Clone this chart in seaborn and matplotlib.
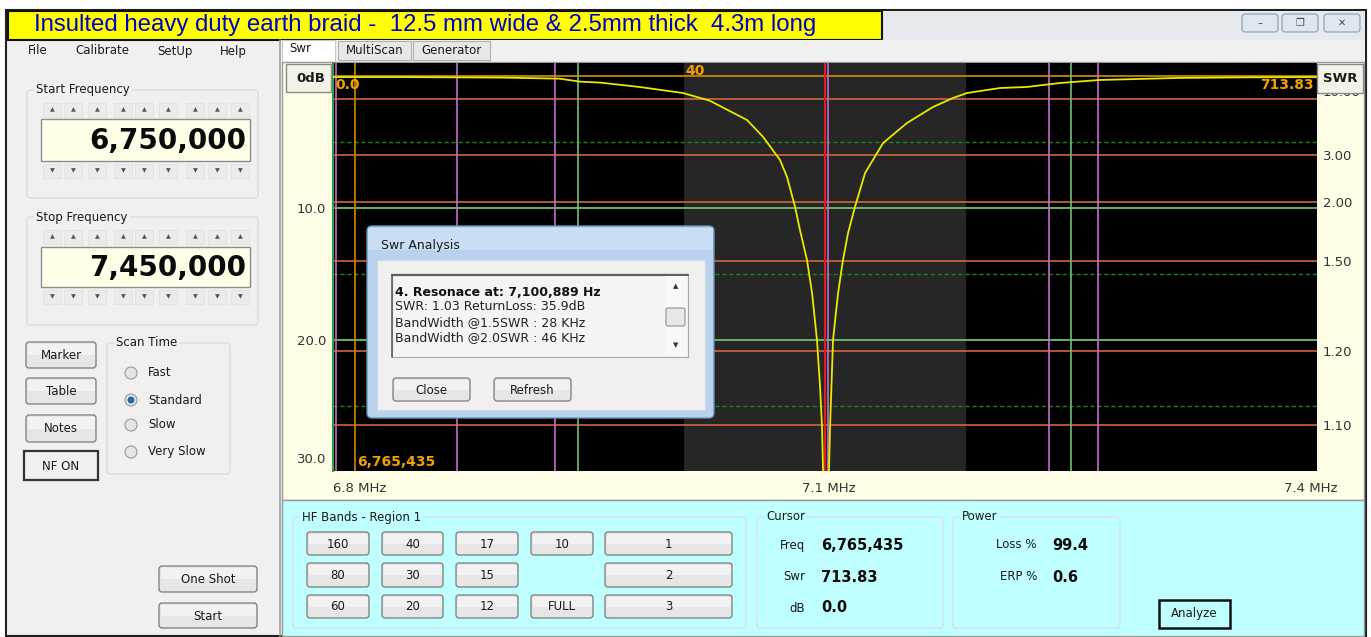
import numpy as np
import matplotlib
matplotlib.use('Agg')
import matplotlib.pyplot as plt
import seaborn as sns
from matplotlib.patches import Rectangle, FancyBboxPatch, Circle
from matplotlib.transforms import ScaledTranslation

sns.set_theme(style='white')
plt.rcParams['font.family'] = ['DejaVu Sans']

# sweep: frequency (MHz) and return loss (dB)
freq_mhz = [6.75, 6.80, 6.833, 6.87, 6.911, 6.926, 6.940, 6.968, 6.999, 7.018,
            7.0445, 7.056, 7.068, 7.073, 7.0787, 7.0822, 7.0872, 7.0908, 7.0943, 7.0965,
            7.0979, 7.0986, 7.1009, 7.1028, 7.1036, 7.1057, 7.1093, 7.1128, 7.1164, 7.1213,
            7.1285, 7.1413, 7.1583, 7.1768, 7.191, 7.201, 7.2245, 7.2437, 7.2672, 7.2956,
            7.35, 7.40, 7.45]
rl_db = [0.08, 0.08, 0.10, 0.12, 0.2, 0.43, 0.5, 0.83, 1.29, 1.87,
         3.33, 4.62, 6.36, 7.65, 9.92, 11.67, 13.94, 16.44, 20.0, 23.56,
         26.6, 29.85, 35.9, 30.0, 26.6, 20.0, 16.44, 13.94, 11.9, 9.92,
         7.35, 5.08, 3.56, 2.35, 1.67, 1.29, 0.91, 0.83, 0.53, 0.30,
         0.15, 0.1, 0.08]

band_40m = (7.0, 7.2)
purple_mhz = [6.752, 6.838, 6.908, 7.102, 7.259, 7.294]
green_mhz = [6.924, 7.275]
marker_mhz = 7.1
cursor_mhz = 6.765435

swr_ticks = [10.0, 3.0, 2.0, 1.5, 1.2, 1.1]
swr_labels = ['10.00', '3.00', '2.00', '1.50', '1.20', '1.10']
db_solid = [10, 20]
db_dashed = [5, 15, 25]
x_ticks = [6.75, 7.1, 7.45]
x_labels = ['6.8 MHz', '7.1 MHz', '7.4 MHz']

title = 'Insulted heavy duty earth braid -  12.5 mm wide & 2.5mm thick  4.3m long'
band_rows = [['160', '40', '17', '10', '1'],
             ['80', '30', '15', '', '2'],
             ['60', '20', '12', 'FULL', '3']]

W, H = 1371, 637
fig = plt.figure(figsize=(W / 100, H / 100), dpi=100)
fig.patch.set_facecolor('white')

# background layer in pixel coordinates
bg = fig.add_axes([0, 0, 1, 1], zorder=0)
bg.set_xlim(0, W)
bg.set_ylim(H, 0)
bg.axis('off')


def rect(ax, x0, y0, x1, y1, fc, ec='none', lw=1, z=1, r=0):
    if r:
        p = FancyBboxPatch((x0, y0), x1 - x0, y1 - y0, boxstyle=f'round,pad=0,rounding_size={r}',
                           fc=fc, ec=ec, lw=lw, zorder=z)
    else:
        p = Rectangle((x0, y0), x1 - x0, y1 - y0, fc=fc, ec=ec, lw=lw, zorder=z)
    ax.add_patch(p)
    return p


def button(ax, x0, y0, x1, y1, label, fs=8.5, ec='#7a7a7a', lw=0.9, z=2, fc='#e6e6e6'):
    rect(ax, x0, y0, x1, y1, fc, ec, lw, z, r=3)
    rect(ax, x0 + 1.5, y0 + 1.5, x1 - 1.5, (y0 + y1) / 2, '#f2f2f2', z=z + 0.01)
    ax.text((x0 + x1) / 2, (y0 + y1) / 2 + 0.5, label, ha='center', va='center',
            fontsize=fs, color='#1a1a1a', zorder=z + 0.1)


def groupbox(ax, x0, y0, x1, y1, label, face, z=1.5):
    rect(ax, x0, y0, x1, y1, 'none', '#d6e0e6', 1.0, z, r=3)
    ax.text(x0 + 9, y0, label, ha='left', va='center', fontsize=8.5, color='#1a1a1a',
            zorder=z + 0.1, bbox=dict(fc=face, ec='none', pad=1.5))


# window chrome
rect(bg, 6, 10, 1366, 636, '#f0f0f0', '#202020', 1.5, z=0.5)
rect(bg, 882, 11, 1365, 40, '#e6e9ee', z=0.6)
for x0, sym in zip([1242, 1282, 1324], ['\u2013', '\u2750', '\u2715']):
    rect(bg, x0, 14, x0 + 36, 32, '#dfe6ef', '#8a9bb0', 0.8, z=0.7, r=3)
    bg.text(x0 + 18, 23, sym, ha='center', va='center', fontsize=7, color='#445', zorder=0.8)
rect(bg, 8, 11, 882, 40, '#ffff00', '#111111', 1.5, z=0.9)
bg.text(34, 25.5, title, ha='left', va='center', fontsize=17.3, color='#0000c8',
        family=['Liberation Sans Narrow', 'Liberation Sans', 'DejaVu Sans'], zorder=1)

# menu
for x, m in zip([28, 75, 157, 220], ['File', 'Calibrate', 'SetUp', 'Help']):
    bg.text(x, 51, m, ha='left', va='center', fontsize=8.5, color='#1a1a1a')

# frequency entry groups
arrow_x = [52, 73, 97, 123, 144, 168, 195, 217, 240]
for (gy0, gy1, label, up_y, vb0, vb1, dn_y, value) in [
        (90, 198, 'Start Frequency', 110, 119, 161, 171, '6,750,000'),
        (217, 325, 'Stop Frequency', 237, 247, 287, 297, '7,450,000')]:
    groupbox(bg, 27, gy0, 258, gy1, label, '#f0f0f0')
    for ax_ in arrow_x:
        rect(bg, ax_ - 9, up_y - 7, ax_ + 9, up_y + 7, '#ebebeb', '#e0e0e0', 0.6, z=1.6)
        bg.text(ax_, up_y, '\u25b2', ha='center', va='center', fontsize=4.5, color='#555', zorder=1.7)
        rect(bg, ax_ - 9, dn_y - 7, ax_ + 9, dn_y + 7, '#ebebeb', '#e0e0e0', 0.6, z=1.6)
        bg.text(ax_, dn_y, '\u25bc', ha='center', va='center', fontsize=4.5, color='#555', zorder=1.7)
    rect(bg, 41, vb0, 250, vb1, '#ffffe8', '#8c8c8c', 1.0, z=1.8)
    bg.text(246, (vb0 + vb1) / 2 + 1, value, ha='right', va='center', fontsize=20,
            fontweight='bold', color='#0a0a0a', zorder=1.9)

# left buttons
button(bg, 26, 342, 96, 368, 'Marker')
button(bg, 26, 378, 96, 404, 'Table')
button(bg, 26, 415, 96, 442, 'Notes')
rect(bg, 24, 451, 98, 480, '#f0f0f0', '#333333', 1.6, z=2)
bg.text(61, 466, 'NF ON', ha='center', va='center', fontsize=8.5, color='#1a1a1a', zorder=2.1)
groupbox(bg, 107, 343, 230, 474, 'Scan Time', '#f0f0f0')
for ry, lab, sel in zip([373, 400, 425, 452], ['Fast', 'Standard', 'Slow', 'Very Slow'],
                        [False, True, False, False]):
    bg.add_patch(Circle((131, ry), 6, fc='#e4e4e4', ec='#9a9a9a', lw=0.8, zorder=2))
    if sel:
        bg.add_patch(Circle((131, ry), 3, fc='#1f6fb5', ec='#0f4f90', lw=0.5, zorder=2.1))
    bg.text(148, ry, lab, ha='left', va='center', fontsize=8.5, color='#1a1a1a', zorder=2.1)
button(bg, 159, 566, 257, 592, 'One Shot')
button(bg, 159, 603, 257, 628, 'Start')
bg.plot([280, 280], [40, 636], color='#a0a0a0', lw=1.2, zorder=1)

# tabs
rect(bg, 281, 40, 1365, 62, '#f0f0f0', z=0.9)
rect(bg, 282, 40, 335, 62, '#ffffff', '#c8c8c8', 0.8, z=1)
bg.text(289, 49, 'Swr', ha='left', va='center', fontsize=8.5, color='#1a1a1a', zorder=1.1)
for x0, x1, lab in [(338, 411, 'MultiScan'), (413, 490, 'Generator')]:
    rect(bg, x0, 41, x1, 60, '#e8e8e8', '#b0b0b0', 0.8, z=1)
    bg.text((x0 + x1) / 2, 50.5, lab, ha='center', va='center', fontsize=8.5, color='#1a1a1a', zorder=1.1)

# chart panel and lower control panel
rect(bg, 282, 62, 1364, 500, '#fffde6', '#9a9a9a', 1.0, z=1)
rect(bg, 282, 500, 1364, 636, '#c0ffff', '#9a9a9a', 1.0, z=1)

groupbox(bg, 293, 517, 746, 628, 'HF Bands - Region 1', '#c0ffff')
col_x = [(307, 369), (382, 443), (456, 518), (531, 593), (605, 732)]
row_y = [(532, 555), (563, 587), (595, 618)]
for ri, row in enumerate(band_rows):
    for ci, lab in enumerate(row):
        if lab:
            button(bg, col_x[ci][0], row_y[ri][0], col_x[ci][1], row_y[ri][1], lab, fs=8.5)

groupbox(bg, 757, 517, 943, 628, 'Cursor', '#c0ffff')
for yy, lab, val in zip([545, 577, 608], ['Freq', 'Swr', 'dB'], ['6,765,435', '713.83', '0.0']):
    bg.text(805, yy, lab, ha='right', va='center', fontsize=8.5, color='#1a1a1a', zorder=2)
    bg.text(821, yy, val, ha='left', va='center', fontsize=10.5, fontweight='bold', color='#0a0a0a', zorder=2)
groupbox(bg, 953, 517, 1120, 628, 'Power', '#c0ffff')
for yy, lab, val in zip([545, 577], ['Loss %', 'ERP %'], ['99.4', '0.6']):
    bg.text(1037, yy, lab, ha='right', va='center', fontsize=8.5, color='#1a1a1a', zorder=2)
    bg.text(1052, yy, val, ha='left', va='center', fontsize=10.5, fontweight='bold', color='#0a0a0a', zorder=2)
rect(bg, 1159, 600, 1230, 628, '#c0ffff', '#111111', 1.8, z=2)
bg.text(1194.5, 614, 'Analyze', ha='center', va='center', fontsize=8.5, color='#1a1a1a', zorder=2.1)

# ---- the SWR chart itself ----
ax = fig.add_axes([333 / W, 1 - 471 / H, 984 / W, 408 / H], zorder=2)
ax.set_facecolor('black')
ax.axvspan(*band_40m, color='#262626', lw=0, zorder=0)

for d in db_dashed:
    ax.axhline(d, color='#138a13', lw=1.0, ls=(0, (3, 2)), zorder=1)
for d in db_solid:
    ax.axhline(d, color='#6fbf6f', lw=1.3, zorder=1)
swr_pos = [-20 * np.log10((s - 1) / (s + 1)) for s in swr_ticks]
for p in swr_pos:
    ax.axhline(p, color='#d0663c', lw=1.2, zorder=1.1)
ax.axhline(0, color='#c88400', lw=1.3, zorder=1.1)

for f in purple_mhz:
    ax.axvline(f, color='#c46ccc', lw=1.2, zorder=1.2)
for f in green_mhz:
    ax.axvline(f, color='#6fbf6f', lw=1.2, zorder=1.2)
ax.axvline(marker_mhz, color='#e02020', lw=1.4, zorder=1.3)
ax.axvline(cursor_mhz, color='#d08a00', lw=1.2, zorder=1.3)

sns.lineplot(x=freq_mhz, y=rl_db, ax=ax, color='#e8e800', lw=1.3, zorder=3)

ax.set_xlim(6.75, 7.45)
ax.set_ylim(29.92, -0.985)
for s in ax.spines.values():
    s.set_visible(False)
ax.spines['left'].set_visible(True)
ax.spines['left'].set_color('#3c9c3c')
ax.spines['left'].set_linewidth(1.5)

ax.set_xticks(x_ticks)
ax.set_xticklabels(x_labels)
ax.set_yticks([10, 20, 28.9])
ax.set_yticklabels(['10.0', '20.0', '30.0'])
ax.tick_params(axis='both', length=0, labelsize=9.5, labelcolor='#333333')
ax.tick_params(axis='x', pad=8)
ax.tick_params(axis='y', pad=5)
xl = ax.get_xticklabels()
xl[0].set_ha('left')
xl[2].set_ha('right')
xl[2].set_transform(xl[2].get_transform() + ScaledTranslation(0.21, 0, fig.dpi_scale_trans))
xl[1].set_transform(xl[1].get_transform() + ScaledTranslation(0.04, 0, fig.dpi_scale_trans))
ax.set_xlabel('')
ax.set_ylabel('')

ax2 = ax.twinx()
ax2.set_ylim(ax.get_ylim())
ax2.set_yticks(swr_pos)
ax2.set_yticklabels(swr_labels)
ax2.tick_params(axis='y', length=0, labelsize=9.5, labelcolor='#333333', pad=4)
# the top label sits partly under the SWR caption box
yl = ax2.get_yticklabels()
yl[0].set_transform(yl[0].get_transform() + ScaledTranslation(0, 0.08, fig.dpi_scale_trans))
for s in ax2.spines.values():
    s.set_visible(False)
ax2.grid(False)

# ---- overlay: labels inside the chart and the analysis dialog ----
ov = fig.add_axes([0, 0, 1, 1], zorder=5)
ov.set_xlim(0, W)
ov.set_ylim(H, 0)
ov.axis('off')
ov.patch.set_alpha(0)

orange = '#f0a000'
ov.text(335, 85, '0.0', ha='left', va='center', fontsize=10, fontweight='bold', color=orange)
ov.text(685, 71, '40', ha='left', va='center', fontsize=10, fontweight='bold', color=orange)
ov.text(1314, 85, '713.83', ha='right', va='center', fontsize=10, fontweight='bold', color=orange)
ov.text(357, 462, '6,765,435', ha='left', va='center', fontsize=10, fontweight='bold', color=orange)

rect(ov, 286, 64, 331, 92, '#f3f3ea', '#8a8a8a', 1.0, z=2)
ov.text(325, 78, '0dB', ha='right', va='center', fontsize=9.5, fontweight='bold', color='#1a1a1a', zorder=2.1)
rect(ov, 1317, 64, 1363, 93, '#f3f3ea', '#8a8a8a', 1.0, z=2)
ov.text(1340, 78.5, 'SWR', ha='center', va='center', fontsize=9.5, fontweight='bold', color='#1a1a1a', zorder=2.1)

# dialog
rect(ov, 367, 226, 714, 418, '#b9d3ee', '#6f8fb0', 1.0, z=3, r=5)
rect(ov, 368, 228, 713, 250, '#c8def4', z=3.05)
ov.text(381, 246, 'Swr Analysis', ha='left', va='center', fontsize=9, color='#1a1a1a', zorder=3.2)
rect(ov, 377, 260, 705, 410, '#f0f0f0', '#d0d8e0', 0.8, z=3.1)
rect(ov, 392, 274, 688, 357, '#f4f4f4', '#a8a8a8', 0.8, z=3.2)
ov.plot([392, 688], [275, 275], color='#606060', lw=1.6, zorder=3.3)
ov.plot([392, 392], [275, 357], color='#606060', lw=1.2, zorder=3.3)
rect(ov, 665, 276, 687, 356, '#f8f8f8', z=3.3)
ov.text(676, 286, '\u25b2', ha='center', va='center', fontsize=5, color='#333', zorder=3.4)
ov.text(676, 345, '\u25bc', ha='center', va='center', fontsize=5, color='#333', zorder=3.4)
rect(ov, 666, 308, 685, 326, '#e8e8e8', '#909090', 0.8, z=3.4, r=2)
ov.text(395, 292, '4. Resonace at: 7,100,889 Hz', ha='left', va='center', fontsize=9,
        fontweight='bold', color='#111111', zorder=3.4)
for yy, line in zip([307, 323, 338], ['SWR: 1.03 ReturnLoss: 35.9dB',
                                      'BandWidth @1.5SWR : 28 KHz',
                                      'BandWidth @2.0SWR : 46 KHz']):
    ov.text(395, yy, line, ha='left', va='center', fontsize=9, color='#222222', zorder=3.4)
button(ov, 393, 378, 470, 401, 'Close', fs=8.5, z=3.5)
button(ov, 494, 378, 571, 401, 'Refresh', fs=8.5, z=3.5)

fig.savefig('out.png', dpi=100)
